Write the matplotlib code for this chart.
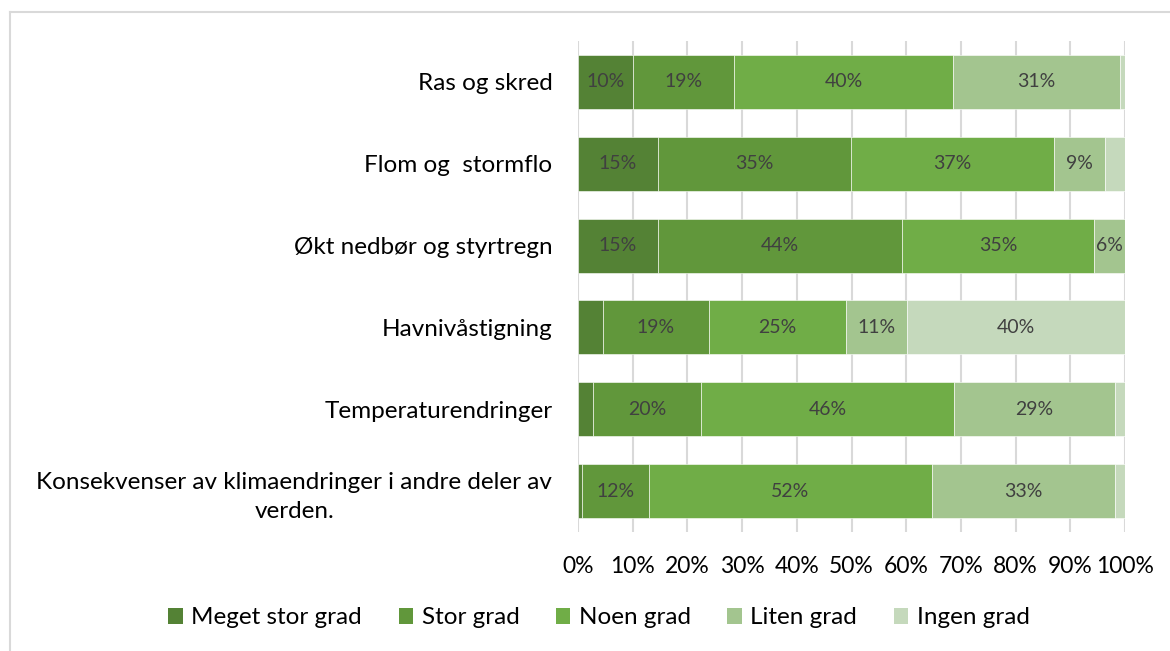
import matplotlib
matplotlib.use("Agg")
import matplotlib.pyplot as plt
from matplotlib.lines import Line2D
from matplotlib.patches import Patch
import numpy as np

plt.rcParams['font.family'] = ['Lato', 'DejaVu Sans']

categories = ["Ras og skred", "Flom og  stormflo", "Økt nedbør og styrtregn",
              "Havnivåstigning", "Temperaturendringer",
              "Konsekvenser av klimaendringer i andre deler av\nverden."]
series_names = ["Meget stor grad", "Stor grad", "Noen grad", "Liten grad", "Ingen grad"]
meget_stor = [10.0, 14.6, 14.6, 4.5, 2.7, 0.7]
stor = [18.6, 35.3, 44.7, 19.5, 19.8, 12.2]
noen = [40.0, 37.1, 35.1, 25.0, 46.2, 51.8]
liten = [30.5, 9.3, 5.6, 11.2, 29.4, 33.5]
ingen = [0.9, 3.7, 0.0, 39.8, 1.9, 1.8]
labels_shown = [
    ["10%", "19%", "40%", "31%", ""],
    ["15%", "35%", "37%", "9%", ""],
    ["15%", "44%", "35%", "6%", ""],
    ["", "19%", "25%", "11%", "40%"],
    ["", "20%", "46%", "29%", ""],
    ["", "12%", "52%", "33%", ""],
]
xticks = [0, 10, 20, 30, 40, 50, 60, 70, 80, 90, 100]
xticklabels = [f"{t}%" for t in xticks]

colors = ["#548235", "#61973B", "#70AD47", "#A3C58F", "#C5D9BC"]

fig = plt.figure(figsize=(11.70, 6.51), dpi=100)
ax = fig.add_axes([578/1170, 1-532/651, (1125-578)/1170, 491/651])

series = [meget_stor, stor, noen, liten, ingen]
y = np.arange(len(categories))
left = np.zeros(len(categories))
for i, (vals, col) in enumerate(zip(series, colors)):
    vals = np.array(vals)
    bars = ax.barh(y, vals, left=left, height=0.66, color=col,
                   edgecolor="white", linewidth=0.4, zorder=3, label=series_names[i])
    for j, b in enumerate(bars):
        txt = labels_shown[j][i]
        if txt:
            ax.text(left[j] + vals[j] / 2, y[j], txt, ha="center", va="center",
                    fontsize=14, color="#404040", zorder=4)
    left = left + vals

ax.set_xlim(0, 100)
ax.set_ylim(len(categories) - 0.5, -0.5)
ax.set_xticks(xticks)
ax.set_xticklabels(xticklabels, fontsize=16.5, color="#000000")
ax.set_yticks(y)
ax.set_yticklabels(categories, fontsize=17.5, color="#000000", multialignment="center",
                   linespacing=1.45)
ax.tick_params(axis="both", length=0)
ax.tick_params(axis="x", pad=17)
ax.tick_params(axis="y", pad=18.5)
for s in ax.spines.values():
    s.set_visible(False)
ax.xaxis.grid(True, color="#D9D9D9", linewidth=1.5, zorder=0)
ax.set_axisbelow(True)

handles = [Patch(facecolor=c, edgecolor="none") for c in colors]
fig.legend(handles, series_names, loc="center", bbox_to_anchor=(599/1170, 1-618/651),
           ncol=5, frameon=False, fontsize=17.5, handlelength=0.6, handleheight=0.6,
           handletextpad=0.35, columnspacing=1.5)

# chart border (left and top)
fig.add_artist(Line2D([10/1170, 10/1170], [0, 1-12/651], transform=fig.transFigure,
                      color="#D9D9D9", linewidth=1.5))
fig.add_artist(Line2D([10/1170, 1], [1-12/651, 1-12/651], transform=fig.transFigure,
                      color="#D9D9D9", linewidth=1.5))

fig.savefig("out.png", dpi=100, facecolor="white")
